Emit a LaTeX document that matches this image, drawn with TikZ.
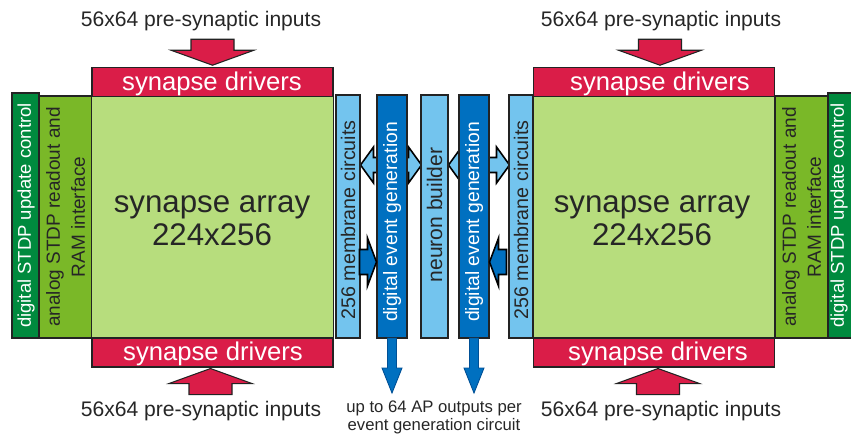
\documentclass[tikz,border=0pt]{standalone}
\usepackage{fontspec}
\setmainfont{Liberation Sans}
\usetikzlibrary{calc,backgrounds}

\definecolor{edge}{RGB}{35,35,35}
\definecolor{drvred}{RGB}{218,29,72}
\definecolor{arrgreen}{RGB}{183,221,125}
\definecolor{anagreen}{RGB}{122,184,40}
\definecolor{diggreen}{RGB}{0,138,62}
\definecolor{ltblue}{RGB}{115,196,238}
\definecolor{dkblue}{RGB}{0,112,192}

\begin{document}
\begin{tikzpicture}[x=0.02cm,y=-0.02cm,
  box/.style={draw=edge, line width=0.6pt, inner sep=0pt, rectangle},
  drv/.style={box, fill=drvred, minimum width=4.82cm, minimum height=0.57cm},
  array/.style={box, fill=arrgreen, minimum width=4.83cm, minimum height=4.84cm},
  ana/.style={box, fill=anagreen, minimum width=1.06cm, minimum height=4.84cm},
  dig/.style={box, fill=diggreen, minimum height=4.90cm},
  mem/.style={box, fill=ltblue, minimum width=0.48cm, minimum height=4.86cm},
  evg/.style={box, fill=dkblue, minimum width=0.60cm, minimum height=4.86cm},
  nbox/.style={box, fill=ltblue, minimum width=0.54cm, minimum height=4.86cm},
  vtext/.style={rotate=90, inner sep=0pt},
  redarrow/.pic={\filldraw[fill=drvred, draw=edge, line width=0.6pt]
      (0,0) -- (-41.5,-15) -- (-21.5,-15) -- (-21.5,-26) -- (21.5,-26)
      -- (21.5,-15) -- (41.5,-15) -- cycle;},
  linkarrow/.pic={\filldraw[fill=ltblue, draw=black, line width=0.9pt]
      (0,0) -- (13,-18) -- (13,-7.5) -- (48,-7.5) -- (48,-18) -- (61,0)
      -- (48,18) -- (48,7.5) -- (13,7.5) -- (13,18) -- cycle;},
  feedarrow/.pic={\filldraw[fill=dkblue, draw=black, line width=0.9pt]
      (0,0) -- (-9,-24) -- (-9,-12.5) -- (-17,-12.5) -- (-17,12.5)
      -- (-9,12.5) -- (-9,24) -- cycle;},
  outarrow/.pic={\filldraw[fill=dkblue, draw={rgb,255:red,0;green,80;blue,150}, line width=0.5pt]
      (0,0) -- (-10,-25) -- (-4.5,-25) -- (-4.5,-55) -- (4.5,-55)
      -- (4.5,-25) -- (10,-25) -- cycle;}
]
\path[use as bounding box] (0,0) rectangle (851,436);

% left half: STDP blocks, synapse array and drivers
\node[dig, minimum width=0.54cm] (dsL) at (25.5,215.5) {};
\node[ana] (anL) at (65.5,217) {};
\node[array] (arrL) at (212.5,217) {};
\node[drv] (drvTL) at (212.5,82) {};
\node[drv, minimum height=0.58cm] (drvBL) at (212.5,352.5) {};

% right half
\node[array] (arrR) at (654,217) {};
\node[ana] (anR) at (801.5,217) {};
\node[dig, minimum width=0.50cm] (dsR) at (840.5,215.5) {};
\node[drv] (drvTR) at (654,82) {};
\node[drv, minimum height=0.58cm] (drvBR) at (654,352.5) {};

% neuron column in the middle
\node[mem] (memL) at (348,216.5) {};
\node[evg] (evL) at (392,216.5) {};
\node[nbox] (nb) at (434.5,216.5) {};
\node[evg] (evR) at (474,216.5) {};
\node[mem] (memR) at (521,216.5) {};

\coordinate (rowLink) at (0,165);
\coordinate (rowFeed) at (0,262);
\coordinate (rowOut) at (0,393);

% membrane <-> neuron builder links run behind the event generators
\begin{scope}[on background layer]
  \pic at (memL.east |- rowLink) {linkarrow};
  \pic at (nb.east |- rowLink) {linkarrow};
\end{scope}

% membrane -> event generation
\pic at (evL.west |- rowFeed) {feedarrow};
\pic[rotate=180] at (evR.east |- rowFeed) {feedarrow};

% spike outputs
\pic at (evL.south |- rowOut) {outarrow};
\pic at (evR.south |- rowOut) {outarrow};

% pre-synaptic inputs into the drivers
\pic at ($(drvTL.north)+(0,-2)$) {redarrow};
\pic at ($(drvTR.north)+(6,-2)$) {redarrow};
\pic[rotate=180] at ($(drvBL.south)+(-2,1)$) {redarrow};
\pic[rotate=180] at ($(drvBR.south)+(4,1)$) {redarrow};

% labels
\tikzset{
  arrtxt/.style={anchor=base, inner sep=0pt, font=\fontsize{17.8}{20}\selectfont, text=black!85},
  drvtxt/.style={anchor=base, inner sep=0pt, font=\fontsize{14.6}{16}\selectfont, text=white},
  intxt/.style={anchor=base, inner sep=0pt, font=\fontsize{12}{14}\selectfont, text=black!85},
  aptxt/.style={anchor=base, inner sep=0pt, font=\fontsize{9.5}{11}\selectfont, text=black!85}
}
\node[arrtxt] (arrLa) at (212,212) {synapse array};
\node[arrtxt] (arrLb) at (212,245) {224x256};
\node[arrtxt] (arrRa) at (652,212) {synapse array};
\node[arrtxt] (arrRb) at (652,245) {224x256};

\node[drvtxt] (drvTLt) at (212,90) {synapse drivers};
\node[drvtxt] (drvBLt) at (213,360) {synapse drivers};
\node[drvtxt] (drvTRt) at (660,90) {synapse drivers};
\node[drvtxt] (drvBRt) at (658,360) {synapse drivers};

\node[intxt] (inTL) at (201,27) {56x64 pre-synaptic inputs};
\node[intxt] (inBL) at (201,416) {56x64 pre-synaptic inputs};
\node[intxt] (inTR) at (661,27) {56x64 pre-synaptic inputs};
\node[intxt] (inBR) at (661,416) {56x64 pre-synaptic inputs};

\node[aptxt] (apA) at (434,412) {up to 64 AP outputs per};
\node[aptxt] (apB) at (434,430) {event generation circuit};

\node[vtext, text=white, font=\fontsize{10.5}{12}\selectfont] (dsLt) at (26,215.5) {digital STDP update control};
\node[vtext, text=white, font=\fontsize{10.5}{12}\selectfont] (dsRt) at (839,215.5) {digital STDP update control};
\node[vtext, align=center, text=black!85, font=\fontsize{10.8}{14.2}\selectfont] (anLt) at (65.5,217) {analog STDP readout and\\RAM interface};
\node[vtext, align=center, text=black!85, font=\fontsize{10.8}{14.2}\selectfont] (anRt) at (801.5,217) {analog STDP readout and\\RAM interface};
\node[vtext, text=black!85, font=\fontsize{11.2}{13}\selectfont] (memLt) at (348,220) {256 membrane circuits};
\node[vtext, text=black!85, font=\fontsize{11.2}{13}\selectfont] (memRt) at (521,220) {256 membrane circuits};
\node[vtext, text=white, font=\fontsize{11}{13}\selectfont] (evLt) at (392,222) {digital event generation};
\node[vtext, text=white, font=\fontsize{11}{13}\selectfont] (evRt) at (474,222) {digital event generation};
\node[vtext, text=black!85, font=\fontsize{12}{14}\selectfont] (nbt) at (434.5,215) {neuron builder};
\end{tikzpicture}
\end{document}
